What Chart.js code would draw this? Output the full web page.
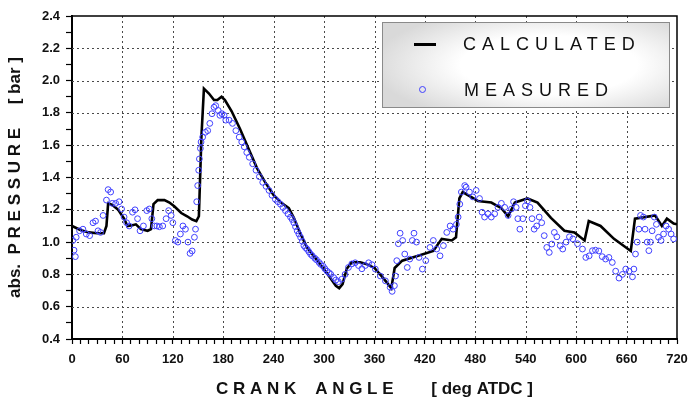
<!DOCTYPE html>
<html><head><meta charset="utf-8">
<script src="https://cdn.jsdelivr.net/npm/chart.js@4.4.0/dist/chart.umd.min.js"></script>
<style>
html,body{margin:0;padding:0;background:#fff;}
#wrap{position:relative;width:690px;height:403px;}
#legend{position:absolute;left:382px;top:22px;width:288px;height:86px;border:1px solid #8a8a8a;box-sizing:border-box;
 background:radial-gradient(ellipse 62% 70% at 58% 50%, #ffffff 50%, #d9d9d9 100%);font-family:'Liberation Sans',Arial,sans-serif;}
.lab{position:absolute;font-size:18px;letter-spacing:6px;color:#111;line-height:24px;white-space:nowrap;}
.lineSample{position:absolute;left:31px;top:20px;width:22px;height:3px;background:#000;}
.ptSample{position:absolute;left:36px;top:63px;width:5px;height:5px;border:1px solid #4040ff;border-radius:50%;}
</style></head>
<body>
<div id="wrap">
<canvas id="c" width="690" height="403"></canvas>
<div id="legend"></div>
</div>
<script>
// ---- data ----
const calcAngle = [0,10,20,30,38,41,43,48,55,62,66,72,76,82,90,94,97,102,110,116,122,130,137,143,148,151,154,157,163,169,173,178,182,190,200,210,220,230,240,250,258,264,272,280,292,303,314,318,322,327,333,343,350,360,370,380,384,393,412,430,440,452,457,461,465,483,499,511,519,527,542,554,570,586,598,610,615,629,645,665,670,694,702,708,716,720];
const calcPressure = [1.10,1.075,1.06,1.055,1.055,1.10,1.24,1.23,1.20,1.145,1.10,1.105,1.11,1.08,1.07,1.08,1.235,1.26,1.26,1.245,1.22,1.18,1.16,1.14,1.13,1.16,1.65,1.95,1.92,1.88,1.88,1.90,1.88,1.81,1.70,1.58,1.46,1.37,1.29,1.24,1.21,1.15,1.05,0.965,0.885,0.81,0.73,0.715,0.74,0.835,0.875,0.875,0.865,0.84,0.78,0.715,0.84,0.885,0.915,0.945,1.02,1.01,1.03,1.27,1.31,1.255,1.245,1.21,1.16,1.245,1.27,1.245,1.15,1.07,1.06,1.01,1.13,1.10,1.02,0.945,1.145,1.165,1.10,1.145,1.115,1.11];

const measAngle = [1,2.4,4,5,9,13,17,21,25,28,31,34,37,41,43,46,48,52,56,59,62,65,68,72,75,78,81,85,89,92,95,98,101,104,108,112,115,118,120,123,126,129,132,135,138,140.5,143,145.7,147,148.4,149.6,150.8,151.6,152.8,153.6,155.5,158.7,161.5,164,166.6,169,171,174,176,178.4,181,183,187,191,195,199,202,205,208,211,215,219,223,227,231,234.5,238,242,245,248,251,254,257,260,262,264,266,268,270,272,274,276,278,280,282,284,286,289,291,294,296,299,301,303.5,306,308,311.5,314,317,321,325,329,333,337,341,345,349,353,357,361,367,373,378.6,381,383.7,385,386.5,388.4,390.5,393.5,396,399,402,405,407,410,413,417,421,426,430,434,438,442,446,450,453.5,457.5,459.5,461.5,463.4,467.4,469,473,477,481,485,488,491,495,499,503,507,511,515,519,523,525.5,528.6,530.6,533,536.5,539.6,542,545,547.5,550,553,556,559,562,565,568,571,574,577,581,584,588,592,596,601.6,607.5,611.5,615.5,619.4,623,627,631,635,639,643,647,651,655,659,663,667,668.7,670.6,672.6,674.6,676.6,680,682,684.5,686.5,688.4,690.4,693,695.5,698,701,704,707,710,713,716];
const measPressure = [1.01,0.95,0.91,1.03,1.07,1.08,1.05,1.04,1.12,1.13,1.07,1.06,1.165,1.26,1.325,1.31,1.24,1.24,1.25,1.205,1.155,1.12,1.10,1.185,1.20,1.145,1.07,1.10,1.195,1.205,1.145,1.10,1.10,1.095,1.10,1.145,1.195,1.165,1.12,1.01,1.00,1.05,1.10,1.08,1.00,0.93,0.945,1.03,1.08,1.25,1.35,1.445,1.515,1.58,1.62,1.65,1.68,1.69,1.735,1.795,1.835,1.845,1.815,1.785,1.795,1.785,1.755,1.755,1.735,1.69,1.65,1.62,1.59,1.555,1.525,1.485,1.445,1.405,1.37,1.345,1.32,1.29,1.265,1.25,1.235,1.215,1.195,1.175,1.155,1.14,1.12,1.095,1.07,1.05,1.03,1.005,0.978,0.965,0.955,0.94,0.925,0.915,0.90,0.89,0.874,0.862,0.85,0.835,0.82,0.81,0.80,0.78,0.765,0.755,0.77,0.80,0.843,0.865,0.872,0.855,0.835,0.855,0.872,0.86,0.833,0.79,0.76,0.72,0.695,0.73,0.79,0.885,0.99,1.055,1.01,0.926,0.843,0.895,1.01,1.055,1.00,0.905,0.833,0.885,0.967,1.01,0.957,0.915,0.978,1.06,1.10,1.08,1.11,1.155,1.235,1.31,1.35,1.34,1.31,1.28,1.32,1.27,1.185,1.155,1.175,1.155,1.175,1.215,1.24,1.215,1.165,1.205,1.25,1.215,1.145,1.08,1.145,1.225,1.255,1.215,1.145,1.08,1.10,1.155,1.12,1.04,0.967,0.936,0.988,1.06,1.033,0.978,0.957,1.00,1.033,1.02,0.99,0.957,0.905,0.915,0.947,0.95,0.945,0.91,0.895,0.905,0.874,0.82,0.777,0.80,0.833,0.82,0.785,0.833,0.926,1.00,1.08,1.165,1.155,1.08,1.00,0.947,1.00,1.07,1.155,1.11,1.03,1.01,1.05,1.10,1.08,1.05,1.02];

const seriesNames = ['CALCULATED','MEASURED'];
const xMin = 0, xMax = 720, xMajor = 60, xMinor = 10;
const yMin = 0.4, yMax = 2.4, yMinor = 0.1;
const xTitle = 'C R A N K    A N G L E        [ deg ATDC ]';
const yTitle = 'abs.  P R E S S U R E     [ bar ]';

// ---- build ----
const FONT = "'Liberation Sans', Arial, sans-serif";
const calcData = calcAngle.map((a,i)=>({x:a,y:calcPressure[i]}));
const measData = measAngle.map((a,i)=>({x:a,y:measPressure[i]}));
const isMajorX = v => Math.round(v) % xMajor === 0;
const isMajorY = v => Math.round(v*10) % 2 === 0;
const GRID = '#4a4a4a', NONE = 'rgba(0,0,0,0)';

// dotted major grid + plot frame, positioned through the chart's own scales
const gridFrame = {
  id:'gridFrame',
  beforeDatasetsDraw(chart){
    const {ctx, chartArea:a, scales:{x, y}} = chart;
    ctx.save();
    ctx.strokeStyle = GRID; ctx.lineWidth = 1; ctx.setLineDash([2,3]);
    x.ticks.filter(t => isMajorX(t.value) && t.value > xMin && t.value < xMax).forEach(t => {
      const px = Math.round(x.getPixelForValue(t.value)) + 0.5;
      ctx.beginPath(); ctx.moveTo(px, a.top); ctx.lineTo(px, a.bottom); ctx.stroke();
    });
    y.ticks.filter(t => isMajorY(t.value) && t.value > yMin + 0.01 && t.value < yMax - 0.01).forEach(t => {
      const py = Math.round(y.getPixelForValue(t.value)) + 0.5;
      ctx.beginPath(); ctx.moveTo(a.left, py); ctx.lineTo(a.right, py); ctx.stroke();
    });
    ctx.setLineDash([]);
    ctx.strokeStyle = '#000'; ctx.lineWidth = 1.5;
    ctx.beginPath();
    ctx.moveTo(a.left, a.top); ctx.lineTo(a.right, a.top); ctx.lineTo(a.right, a.bottom);
    ctx.stroke();
    ctx.restore();
  }
};

const chart = new Chart(document.getElementById('c'), {
  type:'scatter',
  data:{datasets:[
    {label:seriesNames[0], data:calcData, showLine:true, pointRadius:0, pointHoverRadius:0, borderColor:'#000', borderWidth:2.6, tension:0, order:1},
    {label:seriesNames[1], data:measData, showLine:false, pointRadius:2.9, pointHoverRadius:2.9, borderColor:'#4040ff', backgroundColor:NONE, borderWidth:1, order:0}
  ]},
  options:{
    responsive:false, animation:false, devicePixelRatio:1,
    layout:{padding:{left:0,top:16,right:13,bottom:0}},
    plugins:{legend:{display:false}, tooltip:{enabled:false}},
    scales:{
      x:{type:'linear', min:xMin, max:xMax,
        afterFit(s){ s.height = 64; s.paddingLeft = 0; s.paddingRight = 0; },
        ticks:{stepSize:xMinor, autoSkip:false, maxRotation:0, minRotation:0, padding:8, color:'#111',
          font:{family:FONT, size:13, weight:'bold'},
          callback:v=> isMajorX(v) ? String(Math.round(v)) : ''},
        grid:{drawOnChartArea:false, drawTicks:true, color:'#000', tickColor:'#000', tickLength:5, tickWidth:1.2, lineWidth:1},
        border:{color:'#000', width:2},
        title:{display:true, text:xTitle, color:'#111', padding:{top:0,bottom:3}, font:{family:FONT, size:17, weight:'bold'}}
      },
      y:{type:'linear', min:yMin, max:yMax,
        afterFit(s){ s.width = 72; },
        ticks:{stepSize:yMinor, autoSkip:false, padding:6, color:'#111',
          font:{family:FONT, size:13, weight:'bold'},
          callback:v=> isMajorY(v) ? v.toFixed(1) : ''},
        grid:{drawOnChartArea:false, drawTicks:true, color:'#000', tickColor:'#000', tickLength:6, tickWidth:1.2, lineWidth:1},
        border:{color:'#000', width:2},
        title:{display:true, text:yTitle, color:'#111', padding:{top:5,bottom:0}, font:{family:FONT, size:17, weight:'bold'}}
      }
    }
  },
  plugins:[gridFrame]
});

// HTML legend from dataset labels
const lg = document.getElementById('legend');
lg.innerHTML = '<div class="lineSample"></div><div class="lab" style="left:80px;top:9px">'+chart.data.datasets[0].label+'</div>'+
               '<div class="ptSample"></div><div class="lab" style="left:81px;top:55px">'+chart.data.datasets[1].label+'</div>';
</script>
</body></html>
